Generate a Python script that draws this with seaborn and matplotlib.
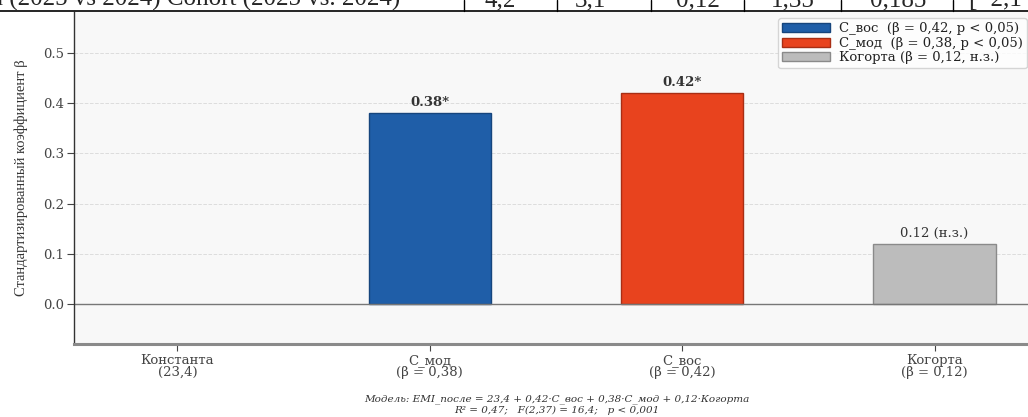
import matplotlib
matplotlib.use("Agg")
import matplotlib.pyplot as plt
import seaborn as sns
import pandas as pd
from matplotlib.patches import Patch

categories = ["Константа\n(23,4)", "С_мод\n(β = 0,38)", "С_вос\n(β = 0,42)", "Когорта\n(β = 0,12)"]
betas = [0.0, 0.38, 0.42, 0.12]
bar_colors = ["#ffffff", "#1f5ea8", "#e8431e", "#bcbcbc"]
edge_colors = ["#ffffff", "#16457d", "#a82e14", "#8a8a8a"]
bar_labels = ["", "0.38*", "0.42*", "0.12 (н.з.)"]
label_bold = [False, True, True, False]
legend_labels = ["С_вос  (β = 0,42, p < 0,05)", "С_мод  (β = 0,38, p < 0,05)", "Когорта (β = 0,12, н.з.)"]
legend_colors = ["#1f5ea8", "#e8431e", "#bcbcbc"]
legend_edges = ["#16457d", "#a82e14", "#8a8a8a"]
table_left = "a (2025 vs 2024) Cohort (2025 vs. 2024)"
table_cells = ["4,2", "3,1", "0,12", "1,35", "0,185"]
table_last = "[−2,1"

sns.set_theme(style="white")
plt.rcParams['font.family'] = ['DejaVu Serif']

fig = plt.figure(figsize=(10.28, 4.17), dpi=100)
W, H = 1028, 417
ax = fig.add_axes([74 / W, (H - 344) / H, (W - 74) / W, (344 - 12) / H])
ax.set_facecolor("#f8f8f8")

df = pd.DataFrame({"cat": categories, "beta": betas})
sns.barplot(data=df, x="cat", y="beta", hue="cat", palette=bar_colors, width=0.485,
            legend=False, ax=ax, saturation=1)
for i, p in enumerate(ax.patches):
    p.set_edgecolor(edge_colors[i])
    p.set_linewidth(1.0)
    if betas[i] == 0:
        p.set_visible(False)
    else:
        ax.text(p.get_x() + p.get_width() / 2, betas[i] + 0.008, bar_labels[i],
                ha="center", va="bottom", fontsize=9.5,
                fontweight="bold" if label_bold[i] else "normal", color="#333333")

ax.set_xlim(-0.41, 3.37)
ax.set_ylim(-0.08, 0.582)
ax.set_yticks([0.0, 0.1, 0.2, 0.3, 0.4, 0.5])
ax.set_yticklabels(["0.0", "0.1", "0.2", "0.3", "0.4", "0.5"])
ax.yaxis.grid(True, linestyle="--", color="#dddddd", linewidth=0.7)
ax.set_axisbelow(True)
ax.axhline(0, color="#777777", linewidth=1.0, zorder=1)
ax.tick_params(axis="both", which="both", length=5, width=0.8, color="#444444",
               labelsize=9.5, labelcolor="#444444", bottom=True, left=True, pad=2)
for lab in ax.get_xticklabels():
    lab.set_linespacing(0.9)
ax.set_xlabel("")
ax.set_ylabel("Стандартизированный коэффициент β", family="Liberation Serif",
              fontsize=10.5, color="#333333", labelpad=11)
for s in ["top", "right"]:
    ax.spines[s].set_visible(False)
ax.spines["left"].set_color("#333333")
ax.spines["left"].set_linewidth(1.0)
ax.spines["bottom"].set_color("#8a8a8a")
ax.spines["bottom"].set_linewidth(2.2)

handles = [Patch(facecolor=c, edgecolor=e, label=l) for c, e, l in zip(legend_colors, legend_edges, legend_labels)]
leg = ax.legend(handles=handles, loc="upper right", bbox_to_anchor=(1.0, 0.985), fontsize=9.5,
                frameon=True, handlelength=3.6, handleheight=0.7, labelspacing=0.12,
                borderpad=0.3, handletextpad=0.7, borderaxespad=0.1)
leg.get_frame().set_facecolor("white")
leg.get_frame().set_edgecolor("#cccccc")
for t in leg.get_texts():
    t.set_color("#222222")

fig.text(557 / W, 1 - 399.5 / H, "Модель: EMI_после = 23,4 + 0,42·C_вос + 0,38·C_мод + 0,12·Когорта",
         ha="center", va="center", fontsize=7.5, style="italic", color="#333333")
fig.text(557 / W, 1 - 410.5 / H, "R² = 0,47;   F(2,37) = 16,4;   p < 0,001",
         ha="center", va="center", fontsize=7.5, style="italic", color="#333333")

# top strip of document table
fig.add_artist(plt.Line2D([0, 1], [1 - 10.5 / H, 1 - 10.5 / H], color="black", linewidth=1.2, transform=fig.transFigure))
for xv in [464, 557, 651, 744, 841, 953]:
    fig.add_artist(plt.Line2D([xv / W, xv / W], [1 - 10.5 / H, 1.0], color="black", linewidth=1.0, transform=fig.transFigure))
fig.text(-8 / W, 1 - 6 / H, table_left, ha="left", va="baseline", fontsize=18, family="Liberation Serif")
for xc, t in zip([500, 590, 698, 793, 898], table_cells):
    fig.text(xc / W, 1 - 6 / H, t, ha="center", va="baseline", fontsize=18, family="Liberation Serif")
fig.text(968 / W, 1 - 6 / H, table_last, ha="left", va="baseline", fontsize=18, family="Liberation Serif")

fig.savefig("out.png", dpi=100)
